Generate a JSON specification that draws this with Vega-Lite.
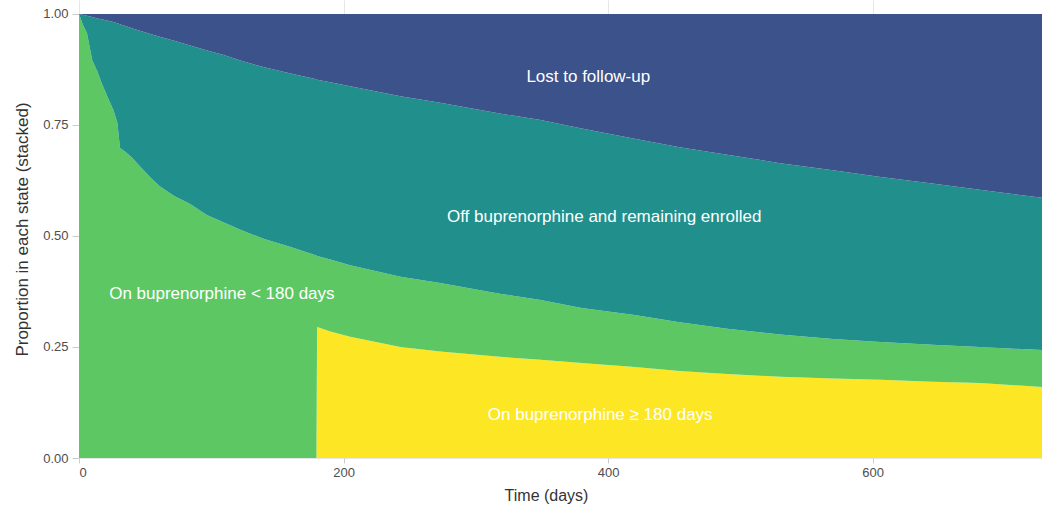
{
  "$schema": "https://vega.github.io/schema/vega-lite/v6.json",
  "width": 963,
  "height": 458,
  "autosize": {"type": "none"},
  "padding": {"left": 79, "top": 0, "right": 0, "bottom": 56},
  "background": "white",
  "config": {
    "view": {"stroke": null},
    "font": "Liberation Sans",
    "axis": {
      "domain": false,
      "gridColor": "#e6e6e6",
      "tickColor": "#cccccc",
      "labelColor": "#4d4d4d",
      "labelFontSize": 13,
      "titleColor": "#333333",
      "titleFontSize": 16,
      "titleFontWeight": "normal"
    }
  },
  "datasets": {
    "states": [
      {"t": 0, "a_ge180": 0, "b_lt180": 1.0, "c_off": 0, "d_lost": 0},
      {"t": 3, "a_ge180": 0, "b_lt180": 0.975, "c_off": 0.023, "d_lost": 0.002},
      {"t": 6, "a_ge180": 0, "b_lt180": 0.957, "c_off": 0.039, "d_lost": 0.004},
      {"t": 10, "a_ge180": 0, "b_lt180": 0.896, "c_off": 0.097, "d_lost": 0.007},
      {"t": 14, "a_ge180": 0, "b_lt180": 0.870, "c_off": 0.120, "d_lost": 0.010},
      {"t": 17, "a_ge180": 0, "b_lt180": 0.845, "c_off": 0.143, "d_lost": 0.012},
      {"t": 22, "a_ge180": 0, "b_lt180": 0.810, "c_off": 0.175, "d_lost": 0.015},
      {"t": 26, "a_ge180": 0, "b_lt180": 0.784, "c_off": 0.198, "d_lost": 0.018},
      {"t": 29, "a_ge180": 0, "b_lt180": 0.755, "c_off": 0.224, "d_lost": 0.021},
      {"t": 31, "a_ge180": 0, "b_lt180": 0.698, "c_off": 0.279, "d_lost": 0.023},
      {"t": 35, "a_ge180": 0, "b_lt180": 0.690, "c_off": 0.283, "d_lost": 0.027},
      {"t": 40, "a_ge180": 0, "b_lt180": 0.677, "c_off": 0.291, "d_lost": 0.032},
      {"t": 46, "a_ge180": 0, "b_lt180": 0.657, "c_off": 0.305, "d_lost": 0.038},
      {"t": 54, "a_ge180": 0, "b_lt180": 0.632, "c_off": 0.323, "d_lost": 0.045},
      {"t": 61, "a_ge180": 0, "b_lt180": 0.612, "c_off": 0.337, "d_lost": 0.051},
      {"t": 72, "a_ge180": 0, "b_lt180": 0.590, "c_off": 0.350, "d_lost": 0.060},
      {"t": 84, "a_ge180": 0, "b_lt180": 0.572, "c_off": 0.357, "d_lost": 0.071},
      {"t": 97, "a_ge180": 0, "b_lt180": 0.547, "c_off": 0.371, "d_lost": 0.082},
      {"t": 110, "a_ge180": 0, "b_lt180": 0.530, "c_off": 0.377, "d_lost": 0.093},
      {"t": 122, "a_ge180": 0, "b_lt180": 0.514, "c_off": 0.381, "d_lost": 0.105},
      {"t": 140, "a_ge180": 0, "b_lt180": 0.493, "c_off": 0.387, "d_lost": 0.120},
      {"t": 160, "a_ge180": 0, "b_lt180": 0.475, "c_off": 0.391, "d_lost": 0.134},
      {"t": 179.5, "a_ge180": 0, "b_lt180": 0.456, "c_off": 0.397, "d_lost": 0.147},
      {"t": 180, "a_ge180": 0.295, "b_lt180": 0.160, "c_off": 0.397, "d_lost": 0.148},
      {"t": 190, "a_ge180": 0.285, "b_lt180": 0.162, "c_off": 0.399, "d_lost": 0.154},
      {"t": 205, "a_ge180": 0.273, "b_lt180": 0.161, "c_off": 0.403, "d_lost": 0.163},
      {"t": 243, "a_ge180": 0.250, "b_lt180": 0.158, "c_off": 0.407, "d_lost": 0.185},
      {"t": 273, "a_ge180": 0.240, "b_lt180": 0.154, "c_off": 0.406, "d_lost": 0.200},
      {"t": 318, "a_ge180": 0.228, "b_lt180": 0.142, "c_off": 0.406, "d_lost": 0.224},
      {"t": 349, "a_ge180": 0.221, "b_lt180": 0.135, "c_off": 0.405, "d_lost": 0.239},
      {"t": 380, "a_ge180": 0.214, "b_lt180": 0.124, "c_off": 0.404, "d_lost": 0.258},
      {"t": 420, "a_ge180": 0.205, "b_lt180": 0.117, "c_off": 0.397, "d_lost": 0.281},
      {"t": 454, "a_ge180": 0.196, "b_lt180": 0.110, "c_off": 0.394, "d_lost": 0.300},
      {"t": 490, "a_ge180": 0.189, "b_lt180": 0.102, "c_off": 0.392, "d_lost": 0.317},
      {"t": 530, "a_ge180": 0.183, "b_lt180": 0.095, "c_off": 0.386, "d_lost": 0.336},
      {"t": 570, "a_ge180": 0.179, "b_lt180": 0.089, "c_off": 0.380, "d_lost": 0.352},
      {"t": 606, "a_ge180": 0.176, "b_lt180": 0.085, "c_off": 0.372, "d_lost": 0.367},
      {"t": 645, "a_ge180": 0.172, "b_lt180": 0.083, "c_off": 0.363, "d_lost": 0.382},
      {"t": 681, "a_ge180": 0.169, "b_lt180": 0.081, "c_off": 0.354, "d_lost": 0.396},
      {"t": 728, "a_ge180": 0.160, "b_lt180": 0.083, "c_off": 0.343, "d_lost": 0.414}
    ],
    "labels": [
      {"label": "Lost to follow-up", "t": 385, "p": 0.858},
      {"label": "Off buprenorphine and remaining enrolled", "t": 397, "p": 0.543},
      {"label": "On buprenorphine < 180 days", "t": 108, "p": 0.369},
      {"label": "On buprenorphine ≥ 180 days", "t": 394, "p": 0.097}
    ]
  },
  "layer": [
    {
      "data": {"name": "states"},
      "transform": [{"fold": ["a_ge180", "b_lt180", "c_off", "d_lost"], "as": ["state", "value"]}],
      "mark": {"type": "area", "interpolate": "linear"},
      "encoding": {
        "x": {
          "field": "t", "type": "quantitative",
          "scale": {"domain": [0, 728], "nice": false, "zero": false},
          "axis": {"values": [0, 200, 400, 600], "title": "Time (days)", "tickSize": 5, "labelPadding": 3, "titlePadding": 8, "titleX": 467, "titleAlign": "center"}
        },
        "y": {
          "field": "value", "type": "quantitative", "stack": "zero",
          "scale": {"domain": [0, 1.0315], "nice": false},
          "axis": {"values": [0, 0.25, 0.5, 0.75, 1], "format": ".2f", "title": "Proportion in each state (stacked)", "titleFontSize": 17, "tickSize": 7, "labelPadding": 4, "titlePadding": 11}
        },
        "color": {
          "field": "state", "type": "nominal",
          "scale": {"domain": ["a_ge180", "b_lt180", "c_off", "d_lost"], "range": ["#fde725", "#5dc863", "#21908d", "#3b528b"]},
          "legend": null
        },
        "order": {"field": "state", "sort": "ascending"}
      }
    },
    {
      "data": {"name": "labels"},
      "mark": {"type": "text", "color": "white", "fontSize": 17, "align": "center", "baseline": "middle"},
      "encoding": {
        "x": {"field": "t", "type": "quantitative"},
        "y": {"field": "p", "type": "quantitative"},
        "text": {"field": "label"}
      }
    }
  ]
}
